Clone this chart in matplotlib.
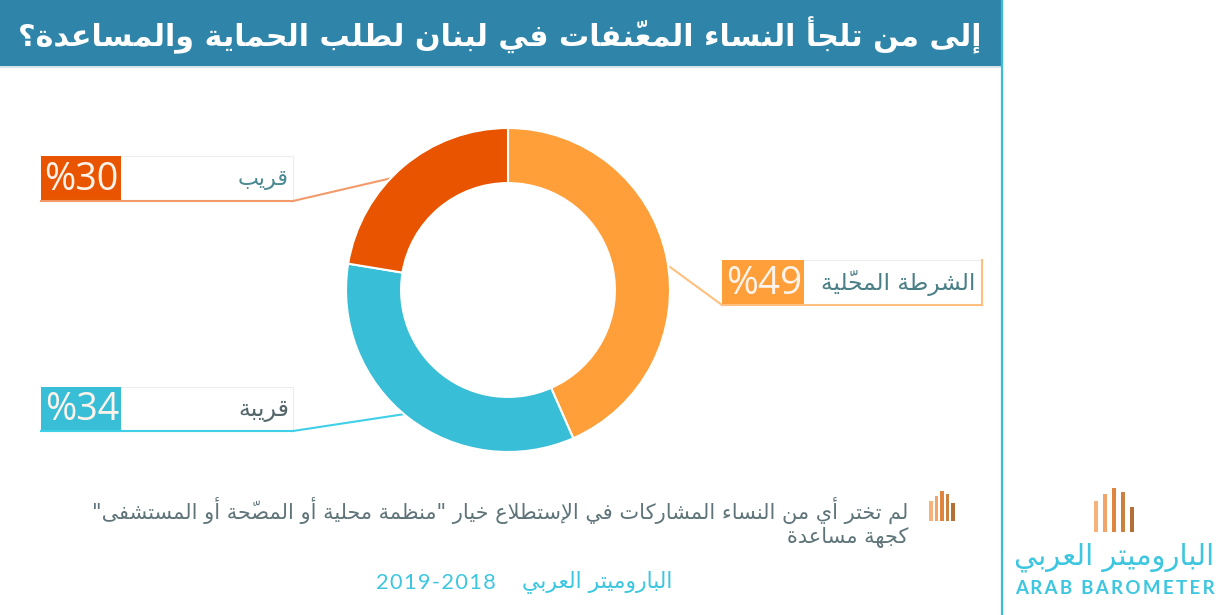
import matplotlib
matplotlib.use('Agg')
import matplotlib.pyplot as plt
from matplotlib.patches import Rectangle

# values
categories = ['الشرطة المحلّية', 'قريبة', 'قريب']
pct_labels = [49, 34, 30]
slice_shares = [43.4, 34.2, 22.4]   # the ring is not drawn in proportion to the labels
colors = ['#FF9F3A', '#38BED6', '#E85400']
leader_colors = ['#FFC07F', '#3FD0E8', '#F39A6B']

title = 'إلى من تلجأ النساء المعنّفات في لبنان لطلب الحماية والمساعدة؟'
note_1 = 'لم تختر أي من النساء المشاركات في الإستطلاع خيار "منظمة محلية أو المصحّة أو المستشفى"'
note_2 = 'كجهة مساعدة'
source = 'الباروميتر العربي'
years = '2019-2018'
logo_en = 'ARAB BAROMETER'

# matplotlib does no Arabic shaping, so map to presentation forms by hand
# order of forms: isolated, final, initial, medial
TWO = {'آ': 0xFE81, 'أ': 0xFE83, 'ؤ': 0xFE85, 'إ': 0xFE87, 'ا': 0xFE8D, 'ة': 0xFE93,
       'د': 0xFEA9, 'ذ': 0xFEAB, 'ر': 0xFEAD, 'ز': 0xFEAF, 'و': 0xFEED, 'ى': 0xFEEF}
FOUR = {'ئ': 0xFE89, 'ب': 0xFE8F, 'ت': 0xFE95, 'ث': 0xFE99, 'ج': 0xFE9D, 'ح': 0xFEA1,
        'خ': 0xFEA5, 'س': 0xFEB1, 'ش': 0xFEB5, 'ص': 0xFEB9, 'ض': 0xFEBD, 'ط': 0xFEC1,
        'ظ': 0xFEC5, 'ع': 0xFEC9, 'غ': 0xFECD, 'ف': 0xFED1, 'ق': 0xFED5, 'ك': 0xFED9,
        'ل': 0xFEDD, 'م': 0xFEE1, 'ن': 0xFEE5, 'ه': 0xFEE9, 'ي': 0xFEF1}
LAM_ALEF = {'آ': 0xFEF5, 'أ': 0xFEF7, 'إ': 0xFEF9, 'ا': 0xFEFB}
SHADDA = '\u0651'


def shape(s):
    # split in clusters of letter + marks
    clusters = []
    for ch in s:
        if ch == SHADDA and clusters:
            clusters[-1][1] += ch
        else:
            clusters.append([ch, ''])
    out = []
    prev_joins = False
    i = 0
    while i < len(clusters):
        ch, mark = clusters[i]
        nxt = clusters[i + 1][0] if i + 1 < len(clusters) else ''
        if ch == 'ل' and nxt in LAM_ALEF:
            code = LAM_ALEF[nxt] + (1 if prev_joins else 0)
            out.append(chr(code) + mark)
            prev_joins = False
            i += 2
            continue
        if ch in FOUR:
            joins_next = nxt in FOUR or nxt in TWO
            form = {(False, False): 0, (True, False): 1, (False, True): 2, (True, True): 3}[(prev_joins, joins_next)]
            out.append(chr(FOUR[ch] + form) + mark)
            prev_joins = joins_next
        elif ch in TWO:
            out.append(chr(TWO[ch] + (1 if prev_joins else 0)) + mark)
            prev_joins = False
        else:
            out.append(ch + mark)
            prev_joins = False
        i += 1
    return ''.join(reversed(out))


fig = plt.figure(figsize=(12.3, 6.15), dpi=100, facecolor='white')
ax = fig.add_axes([0, 0, 1, 1], zorder=1)
ax.set_xlim(0, 1230)
ax.set_ylim(615, 0)
ax.axis('off')
renderer = fig.canvas.get_renderer()


def put(x, y, s, width, color, ha='right', **kw):
    kw.setdefault('family', ['DejaVu Sans'])
    t = ax.text(x, y, s, color=color, ha=ha, va='center', fontsize=20, **kw)
    # scale the font until the text has the width it has in the picture
    w = t.get_window_extent(renderer).width
    t.set_fontsize(20 * width / w)
    return t


# header and right rule
ax.add_patch(Rectangle((0, 0), 1002, 66, fc='#2E85A9', ec='none'))
ax.add_patch(Rectangle((0, 66), 1002, 2, fc='#D9E4EA', ec='none'))
ax.plot([1002, 1002], [0, 615], color='#38BED6', lw=1.6)
put(981, 35, shape(title), 961, 'white', fontweight='bold')

# ring
ax_pie = fig.add_axes([346 / 1230, 1 - 452 / 615, 324 / 1230, 324 / 615], zorder=2)
ax_pie.patch.set_alpha(0)
ax_pie.pie(slice_shares, colors=colors, startangle=90, counterclock=False, radius=1,
           wedgeprops={'width': 0.34, 'edgecolor': 'white', 'linewidth': 1.5})
ax_pie.set_xlim(-1, 1)
ax_pie.set_ylim(-1, 1)

# label boxes: x0, x1, y0, y1, x1 of the percent block
boxes = [(722, 982, 260, 305, 804), (41, 293, 387, 431, 121), (41, 293, 156, 201, 121)]
leaders = [([722, 670], [305, 267]), ([293, 405], [431, 414]), ([293, 392], [201, 178])]
label_pos = [(975, 155), (289, 51), (289, 51)]
label_colors = ['#4A7F86', '#55666B', '#4A8A92']

for i, cat in enumerate(categories):
    x0, x1, y0, y1, xb = boxes[i]
    ax.add_patch(Rectangle((x0, y0), x1 - x0, y1 - y0, fc='white', ec='#EDEDED', lw=0.8))
    ax.add_patch(Rectangle((x0, y0), xb - x0, y1 - y0, fc=colors[i], ec='none'))
    ax.plot([x0, x1], [y1, y1], color=leader_colors[i], lw=1.5)
    ax.plot(leaders[i][0], leaders[i][1], color=leader_colors[i], lw=1.5)
    if i == 0:
        ax.plot([x1, x1], [y0, y1], color=leader_colors[i], lw=1.5)
    put(xb - 2, (y0 + y1) / 2 + 1, '%' + str(pct_labels[i]), xb - x0 - 6, '#FDF3EA', family=['Open Sans'])
    put(label_pos[i][0], (y0 + y1) / 2 + 1, shape(cat), label_pos[i][1], label_colors[i])

# note
note_color = '#5E7479'
note_t = put(908, 510, shape(note_1), 815, note_color)
ax.text(908, 537, shape(note_2), color=note_color, ha='right', va='center',
        family=['DejaVu Sans'], fontsize=note_t.get_fontsize())

# small icon and logo bars: x, top
icon_bars = [(931, 501), (936.5, 496), (942, 491), (947.5, 494), (953, 503)]
logo_bars = [(1096, 501), (1105, 494), (1114, 488), (1123, 492), (1132, 507)]
bar_colors = ['#F6B27A', '#F3A469', '#DF8540', '#C98240', '#B36F35']
for (x, top), c in zip(icon_bars, bar_colors):
    ax.add_patch(Rectangle((x - 1.7, top), 3.4, 521 - top, fc=c, ec='none'))
for (x, top), c in zip(logo_bars, bar_colors):
    ax.add_patch(Rectangle((x - 2, top), 4, 532 - top, fc=c, ec='none'))

# footer and logo text
cyan = '#3CC6E0'
put(672, 582, shape(source), 151, cyan)
put(496, 583, '\u200a'.join(years), 120, cyan, family=['Lato', 'DejaVu Sans'])
put(1214, 557, shape(source), 200, cyan)
put(1215, 589, '\u2009'.join(logo_en).replace('\u2009 \u2009', '  '), 199, cyan,
    family=['Lato', 'DejaVu Sans'], fontweight='bold')

fig.savefig('out.png', dpi=100)
